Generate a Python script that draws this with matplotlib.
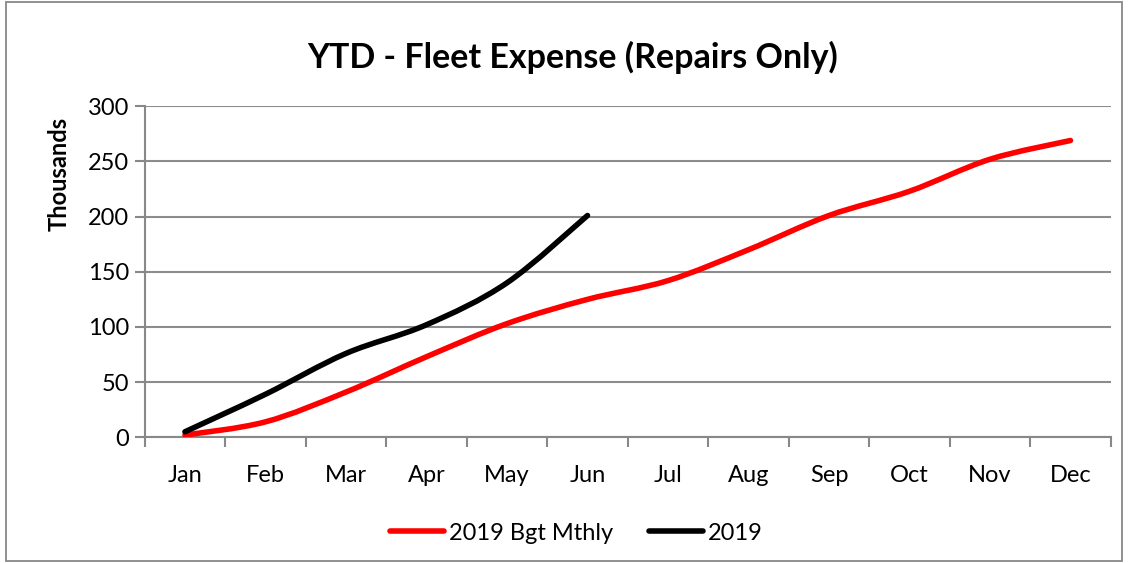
import matplotlib
matplotlib.use("Agg")
import matplotlib.pyplot as plt
from matplotlib.path import Path
from matplotlib.patches import PathPatch, Rectangle
from matplotlib.lines import Line2D

# data (thousands)
months = ["Jan", "Feb", "Mar", "Apr", "May", "Jun",
          "Jul", "Aug", "Sep", "Oct", "Nov", "Dec"]
budget = [2, 14, 41, 73, 103, 125, 142, 170, 201, 223, 252, 269]
actual = [5, 39, 76, 102, 140, 201]

plt.rcParams["font.family"] = ["Lato", "DejaVu Sans"]


def smooth_path(ys):
    # Excel-style smoothed line: cubic bezier through each point
    pts = list(enumerate(ys))
    verts = [pts[0]]
    codes = [Path.MOVETO]
    n = len(pts)
    for i in range(n - 1):
        p0 = pts[i - 1] if i > 0 else pts[i]
        p1 = pts[i]
        p2 = pts[i + 1]
        p3 = pts[i + 2] if i + 2 < n else pts[i + 1]
        c1 = (p1[0] + (p2[0] - p0[0]) / 6, p1[1] + (p2[1] - p0[1]) / 6)
        c2 = (p2[0] - (p3[0] - p1[0]) / 6, p2[1] - (p3[1] - p1[1]) / 6)
        verts += [c1, c2, p2]
        codes += [Path.CURVE4] * 3
    return Path(verts, codes)


fig = plt.figure(figsize=(11.28, 5.63), dpi=100)
ax = fig.add_axes([0.1283, 0.2233, 0.8564, 0.5879])

lw = 4
for ys, col in [(budget, "#ff0000"), (actual, "#000000")]:
    ax.add_patch(PathPatch(smooth_path(ys), fill=False, edgecolor=col,
                           lw=lw, capstyle="round", joinstyle="round",
                           zorder=3))

ax.set_xlim(-0.5, 11.5)
ax.set_ylim(0, 300)
ax.set_yticks(range(0, 301, 50))
ax.set_xticks(range(12))
ax.set_xticklabels(months)
ax.set_xticks([i - 0.5 for i in range(13)], minor=True)
ax.tick_params(axis="x", which="major", length=0, pad=20, labelsize=17)
ax.tick_params(axis="x", which="minor", length=7, width=1.5, color="#888888")
ax.tick_params(axis="y", length=7, width=1.5, color="#888888", labelsize=17, pad=4)

ax.grid(axis="y", color="#8c8c8c", lw=1.5)
ax.set_axisbelow(True)
for s in ["top", "right"]:
    ax.spines[s].set_visible(False)
for s in ["left", "bottom"]:
    ax.spines[s].set_color("#888888")
    ax.spines[s].set_linewidth(1.5)

ax.set_ylabel("Thousands", fontsize=17, fontweight="bold")
ax.yaxis.set_label_coords(-0.077, 0.795)
fig.text(0.508, 0.898, "YTD - Fleet Expense (Repairs Only)", ha="center",
         va="center", fontsize=24.5, fontweight="bold")

handles = [Line2D([], [], color="#ff0000", lw=lw, solid_capstyle="round"),
           Line2D([], [], color="#000000", lw=lw, solid_capstyle="round")]
fig.legend(handles, ["2019 Bgt Mthly", "2019"], loc="center",
           bbox_to_anchor=(0.511, 0.053), ncol=2, frameon=False,
           fontsize=17, handlelength=2.3, handletextpad=0.2,
           columnspacing=1.5)

fig.add_artist(Rectangle((0.005, 0.003), 0.99, 0.994, transform=fig.transFigure,
                         fill=False, edgecolor="#888888", lw=1.3))

fig.savefig("out.png", dpi=100)
